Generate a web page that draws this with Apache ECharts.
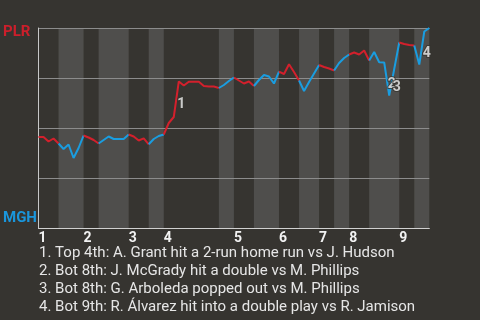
<!DOCTYPE html>
<html>
<head>
<meta charset="utf-8">
<script src="https://cdn.jsdelivr.net/npm/echarts@6/dist/echarts.min.js"></script>
<style>
html,body{margin:0;padding:0;background:#363430;}
#chart{width:480px;height:320px;}
</style>
</head>
<body>
<div id="chart"></div>
<script>
// PLR win probability (%) after each plate appearance
const wp = [
  45.5, 45.5, 43.25, 44.75, 42.25,
  39.5, 41.75, 35, 40, 46.25,
  45.25, 44, 42.25,
  44, 45.75, 44.5, 44.5, 44.5, 46.75,
  45.75, 43.75, 44.85, 41.85,
  44.5, 46, 46.75,
  52.5, 55.5, 73.25, 71.25, 73.15, 73.15, 73.15, 71, 70.75, 70.75, 70,
  71.5, 73.5, 75.25,
  73.75, 72.25, 73.25, 71,
  74, 76.5, 75.75, 72.25, 78.15,
  77, 81.85, 78, 73.75,
  68.5, 73, 77.25, 81.5,
  80.5, 79.75, 78.75,
  82.5, 85, 86.75,
  87.75, 86.75, 88.75, 83.75,
  88, 82.85, 82.75, 66.25, 79.5, 92.75,
  92, 91.5, 91.25,
  81.75, 98.25, 100
];
// plate-appearance index where each half inning starts (last = end)
const halfStarts = [0, 4, 9, 12, 18, 22, 25, 36, 39, 43, 48, 52, 56, 59, 62, 66, 72, 75, 78];
const innings = ['1', '2', '3', '4', '5', '6', '7', '8', '9'];
const eventIdx = [27, 69, 70, 76];
const eventLabels = ['1', '2', '3', '4'];
const teams = ['PLR', 'MGH'];
const notes = [
  '1. Top 4th: A. Grant hit a 2-run home run vs J. Hudson',
  '2. Bot 8th: J. McGrady hit a double vs M. Phillips',
  '3. Bot 8th: G. Arboleda popped out vs M. Phillips',
  '4. Bot 9th: R. Álvarez hit into a double play vs R. Jamison'
];

const RED = '#d3202c';
const BLUE = '#1a9de0';
const BAND = '#4f4e4c';
const BG = '#363430';

const inningStarts = halfStarts.filter((_, k) => k % 2 === 0 && k < halfStarts.length - 1);

const series = [];
// bands
const bands = [];
for (let h = 1; h < halfStarts.length - 1; h += 2) {
  bands.push([{ xAxis: halfStarts[h] }, { xAxis: halfStarts[h + 1] }]);
}
series.push({
  type: 'line', z: 1, data: [[0, 50]], symbol: 'none', lineStyle: { width: 0, opacity: 0 },
  silent: true, animation: false,
  markArea: { silent: true, itemStyle: { color: BAND }, data: bands }
});
// line segments by half inning
for (let h = 0; h < halfStarts.length - 1; h++) {
  const d = [];
  for (let i = halfStarts[h]; i <= halfStarts[h + 1]; i++) d.push([i, wp[i]]);
  series.push({
    type: 'line', z: 3, data: d, symbol: 'none', animation: false, silent: true,
    lineStyle: { color: h % 2 === 0 ? RED : BLUE, width: 2 }
  });
}
// event labels at the middle of each event segment
series.push({
  type: 'scatter', z: 5, animation: false, silent: true, symbolSize: 0,
  data: eventIdx.map((i, k) => ({ value: [i + 0.5, (wp[i] + wp[i + 1]) / 2], name: eventLabels[k] })),
  label: {
    show: true, formatter: p => p.name, position: [1, -2], align: 'left', verticalAlign: 'top',
    color: '#f0f0f0', fontFamily: 'Roboto', fontWeight: 'bold', fontSize: 14,
    textBorderColor: BG, textBorderWidth: 2
  }
});

const graphics = [
  { type: 'text', x: 3, y: 25, style: { text: teams[0], fill: '#cc1f2b', font: 'bold 15px Roboto', textVerticalAlign: 'top' } },
  { type: 'text', x: 3, y: 210.5, style: { text: teams[1], fill: '#1a96dc', font: 'bold 15px Roboto', textVerticalAlign: 'top' } }
];
notes.forEach((t, k) => {
  graphics.push({ type: 'text', x: 39, y: 245.5 + 18 * k, style: { text: t, fill: '#e6e6e6', font: '15px Roboto', textVerticalAlign: 'top' } });
});

const chart = echarts.init(document.getElementById('chart'), null, { renderer: 'canvas' });
chart.setOption({
  backgroundColor: BG,
  animation: false,
  grid: { left: 38.5, right: 50.7, top: 28, bottom: 92, containLabel: false },
  xAxis: {
    type: 'value', min: 0, max: 78, z: 2,
    axisLine: { show: true, onZero: false, lineStyle: { color: '#d0d0d0', width: 1 } },
    axisTick: { show: false },
    splitLine: { show: false },
    axisLabel: {
      customValues: inningStarts,
      formatter: v => innings[inningStarts.indexOf(v)] || '',
      align: 'left', margin: 3, color: '#f2f2f2', fontFamily: 'Roboto', fontWeight: 'bold', fontSize: 14
    }
  },
  yAxis: {
    type: 'value', min: 0, max: 100, interval: 25, z: 2,
    axisLine: { show: true, lineStyle: { color: '#c8c8c8', width: 1 } },
    axisTick: { show: false },
    axisLabel: { show: false },
    splitLine: { show: true, lineStyle: { color: '#8c8c8c', width: 1 } }
  },
  graphic: graphics,
  series: series
});
</script>
</body>
</html>
